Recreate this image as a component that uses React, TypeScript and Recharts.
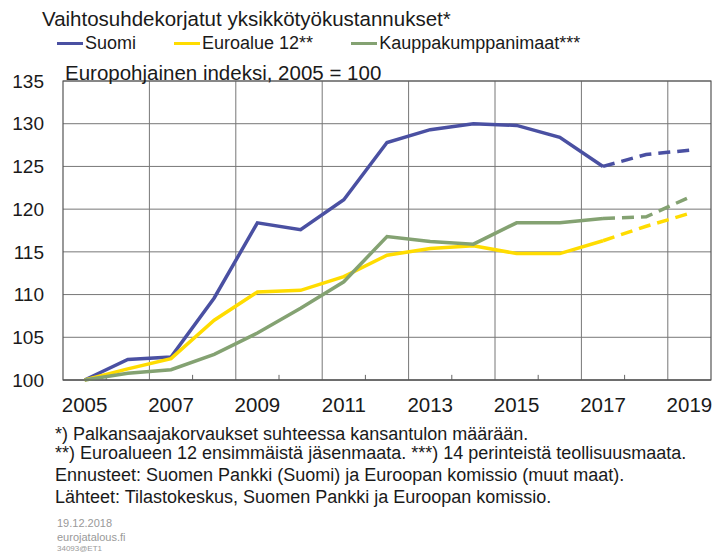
import React from "react";
import {
  LineChart,
  Line,
  XAxis,
  YAxis,
  CartesianGrid,
  ReferenceLine,
  ReferenceArea,
} from "recharts";

// Vuodet ja sarjat (indeksi 2005 = 100)
const years = [2005, 2006, 2007, 2008, 2009, 2010, 2011, 2012, 2013, 2014, 2015, 2016, 2017, 2018, 2019];
const suomi = [100, 102.4, 102.7, 109.6, 118.4, 117.6, 121.1, 127.8, 129.3, 130.0, 129.8, 128.4, 125.0, 126.4, 126.9];
const euroalue = [100, 101.3, 102.5, 107.0, 110.3, 110.5, 112.1, 114.6, 115.4, 115.7, 114.8, 114.8, 116.3, 118.0, 119.5];
const kauppa = [100, 100.8, 101.2, 103.0, 105.5, 108.4, 111.5, 116.8, 116.2, 115.9, 118.4, 118.4, 118.9, 119.1, 121.4];
const forecastFrom = 2017;

const yTicks = [100, 105, 110, 115, 120, 125, 130, 135];
const xLabels = [2005, 2007, 2009, 2011, 2013, 2015, 2017, 2019];
const gridYears = [2006.5, 2008.5, 2010.5, 2012.5, 2014.5, 2016.5, 2018.5];
const minorTicks = [2005.5, 2007.5, 2009.5, 2011.5, 2013.5, 2015.5, 2017.5];

const series = [
  { key: "suomi", name: "Suomi", values: suomi, color: "#4A50A2" },
  { key: "euro", name: "Euroalue 12**", values: euroalue, color: "#FFDC00" },
  { key: "kauppa", name: "Kauppakumppanimaat***", values: kauppa, color: "#84A272" },
];

const footnotes = [
  "*) Palkansaajakorvaukset suhteessa kansantulon määrään.",
  "**) Euroalueen 12 ensimmäistä jäsenmaata. ***) 14 perinteistä teollisuusmaata.",
  "Ennusteet: Suomen Pankki (Suomi) ja Euroopan komissio (muut maat).",
  "Lähteet: Tilastokeskus, Suomen Pankki ja Euroopan komissio.",
];

const data = years.map((year, i) => {
  const row: Record<string, number | null> = { year };
  for (const s of series) {
    row[s.key] = year <= forecastFrom ? s.values[i] : null;
    row[s.key + "F"] = year >= forecastFrom ? s.values[i] : null;
  }
  return row;
});

const font = "'Liberation Sans', Arial, sans-serif";
const ink = "#1a1a1a";

export default function App() {
  return (
    <div
      style={{
        position: "absolute",
        left: 0,
        top: 0,
        width: 714,
        height: 556,
        background: "#fff",
        fontFamily: font,
        color: ink,
        overflow: "hidden",
      }}
    >
      <LineChart
        width={714}
        height={420}
        data={data}
        margin={{ top: 81, right: 3, left: 0, bottom: 0 }}
      >
        <CartesianGrid vertical={false} stroke="#777" />
        {gridYears.map((x) => (
          <ReferenceLine key={x} x={x} stroke="#777" zIndex={-50} />
        ))}
        {minorTicks.map((x) => (
          <ReferenceLine
            key={"m" + x}
            segment={[
              { x, y: 100 },
              { x, y: 100.6 },
            ]}
            stroke="#666"
            zIndex={-50}
          />
        ))}
        <ReferenceArea
          x1={2004.5}
          x2={2019.5}
          y1={100}
          y2={135}
          fill="none"
          stroke="#555"
          strokeWidth={1.2}
          zIndex={-40}
        />
        <XAxis
          dataKey="year"
          type="number"
          domain={[2004.5, 2019.5]}
          ticks={xLabels}
          tickLine={false}
          tickSize={0}
          tickMargin={17}
          height={40}
          axisLine={{ stroke: "#555" }}
          tick={{ fontSize: 20.5, fill: ink, fontFamily: font }}
          interval={0}
        />
        <YAxis
          domain={[100, 135]}
          ticks={yTicks}
          width={63}
          tickLine={false}
          tickSize={0}
          tickMargin={19}
          axisLine={false}
          tick={{ fontSize: 19, fill: ink, fontFamily: font }}
          interval={0}
        />
        {series.map((s) => (
          <Line
            key={s.key}
            dataKey={s.key}
            stroke={s.color}
            strokeWidth={3.5}
            dot={false}
            isAnimationActive={false}
          />
        ))}
        {series.map((s) => (
          <Line
            key={s.key + "F"}
            dataKey={s.key + "F"}
            stroke={s.color}
            strokeWidth={3.5}
            strokeDasharray="12 7"
            dot={false}
            isAnimationActive={false}
          />
        ))}
      </LineChart>

      <div style={{ position: "absolute", left: 42, top: 9, fontSize: 20.5, lineHeight: 1, whiteSpace: "pre" }}>
        Vaihtosuhdekorjatut yksikkötyökustannukset*
      </div>

      <div style={{ position: "absolute", left: 57, top: 34, display: "flex", alignItems: "center", fontSize: 18, lineHeight: 1 }}>
        {series.map((s, i) => (
          <div key={s.key} style={{ display: "flex", alignItems: "center", marginLeft: i === 0 ? 0 : 38 }}>
            <div style={{ width: 26, height: 3, background: s.color }} />
            <span style={{ marginLeft: 2 }}>{s.name}</span>
          </div>
        ))}
      </div>

      <div style={{ position: "absolute", left: 65, top: 63, fontSize: 20.5, lineHeight: 1, whiteSpace: "pre" }}>
        Europohjainen indeksi, 2005 = 100
      </div>

      {footnotes.map((t, i) => (
        <div
          key={i}
          style={{
            position: "absolute",
            left: 55,
            top: [425, 444, 466, 488][i],
            fontSize: 18,
            lineHeight: 1,
            whiteSpace: "pre",
          }}
        >
          {t}
        </div>
      ))}

      <div style={{ position: "absolute", left: 57, top: 518, fontSize: 11, lineHeight: 1, color: "#999" }}>19.12.2018</div>
      <div style={{ position: "absolute", left: 57, top: 532, fontSize: 11, lineHeight: 1, color: "#999" }}>eurojatalous.fi</div>
      <div style={{ position: "absolute", left: 57, top: 545, fontSize: 8, lineHeight: 1, color: "#999" }}>34093@ET1</div>
    </div>
  );
}
